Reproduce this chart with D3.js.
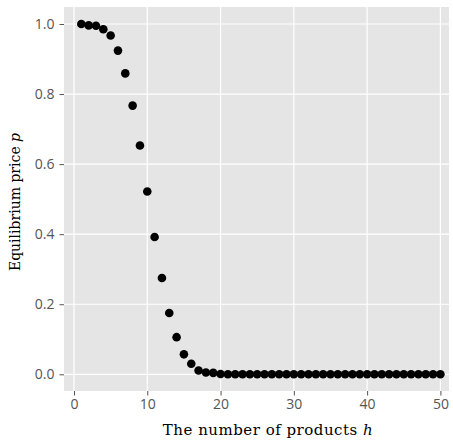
<!DOCTYPE html>
<html>
<head>
<meta charset="utf-8">
<script src="https://cdn.jsdelivr.net/npm/d3@7"></script>
<style>
  body { margin: 0; background: #fff; }
  svg { display: block; }
</style>
</head>
<body>
<div id="chart"></div>
<script>
// number of products h
var products = d3.range(1, 51);
// equilibrium price p for each h
var prices = [1.000, 0.996, 0.995, 0.985, 0.967, 0.924, 0.859, 0.767, 0.653, 0.522,
              0.392, 0.275, 0.175, 0.106, 0.057, 0.030, 0.011, 0.005, 0.004, 0.001,
              0, 0, 0, 0, 0, 0, 0, 0, 0, 0,
              0, 0, 0, 0, 0, 0, 0, 0, 0, 0,
              0, 0, 0, 0, 0, 0, 0, 0, 0, 0];
var xTicks = [0, 10, 20, 30, 40, 50];
var yTicks = [0, 0.2, 0.4, 0.6, 0.8, 1.0];

var width = 453, height = 440;
var plot = {left: 64, right: 449, top: 7, bottom: 391};

var x = d3.scaleLinear().domain([0, 50]).range([74, 440.4]);
var y = d3.scaleLinear().domain([0, 1]).range([374.3, 24]);

var svg = d3.select("#chart").append("svg")
  .attr("width", width)
  .attr("height", height);

svg.append("rect")
  .attr("x", plot.left)
  .attr("y", plot.top)
  .attr("width", plot.right - plot.left)
  .attr("height", plot.bottom - plot.top)
  .attr("fill", "#e5e5e5");

// grid
svg.append("g").selectAll("line")
  .data(xTicks).enter().append("line")
  .attr("x1", d => x(d)).attr("x2", d => x(d))
  .attr("y1", plot.top).attr("y2", plot.bottom)
  .attr("stroke", "#fff").attr("stroke-width", 1.2);

svg.append("g").selectAll("line")
  .data(yTicks).enter().append("line")
  .attr("y1", d => y(d)).attr("y2", d => y(d))
  .attr("x1", plot.left).attr("x2", plot.right)
  .attr("stroke", "#fff").attr("stroke-width", 1.2);

// axes
var xAxis = svg.append("g")
  .attr("transform", "translate(0," + plot.bottom + ")")
  .call(d3.axisBottom(x).tickValues(xTicks).tickFormat(d3.format("d")).tickSize(4.5).tickPadding(4));

var yAxis = svg.append("g")
  .attr("transform", "translate(" + plot.left + ",0)")
  .call(d3.axisLeft(y).tickValues(yTicks).tickFormat(d3.format(".1f")).tickSize(4.5).tickPadding(5));

[xAxis, yAxis].forEach(function(a) {
  a.select(".domain").remove();
  a.selectAll(".tick line").attr("stroke", "#555").attr("stroke-width", 1);
  a.selectAll(".tick text")
    .attr("fill", "#555")
    .style("font-family", "'Open Sans', sans-serif")
    .style("font-size", "14px");
});

// points
svg.append("g").selectAll("circle")
  .data(products).enter().append("circle")
  .attr("cx", (d) => x(d))
  .attr("cy", (d, i) => y(prices[i]))
  .attr("r", 4.3)
  .attr("fill", "#000");

// labels
var xl = svg.append("text")
  .attr("x", 268).attr("y", 434.5)
  .attr("text-anchor", "middle")
  .style("font-family", "'DejaVu Serif', serif")
  .style("font-size", "15px")
  .style("letter-spacing", "0.5px")
  .attr("fill", "#000");
xl.append("tspan").text("The number of products ");
xl.append("tspan").style("font-style", "italic").text("h");

var yl = svg.append("text")
  .attr("transform", "translate(20,202) rotate(-90)")
  .attr("text-anchor", "middle")
  .style("font-family", "'DejaVu Serif', serif")
  .style("font-size", "14px")
  .attr("fill", "#000");
yl.append("tspan").text("Equilibrium price ");
yl.append("tspan").style("font-style", "italic").text("p");
</script>
</body>
</html>
